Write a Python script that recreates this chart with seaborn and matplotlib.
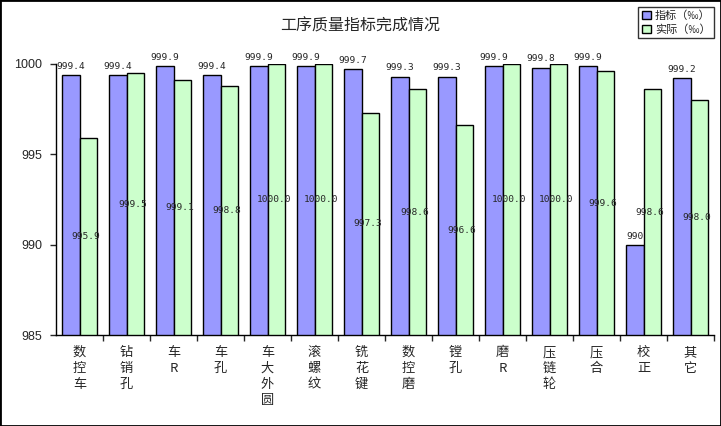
import numpy as np
import pandas as pd
import seaborn as sns
from matplotlib import pyplot as plt
from matplotlib.patches import Patch, Rectangle

sns.set_style("white")
plt.rcParams['font.family'] = ['Noto Sans CJK SC', 'DejaVu Sans']

cats = ['数控车', '钻销孔', '车R', '车孔', '车大外圆', '滚螺纹', '铣花键',
        '数控磨', '镗孔', '磨R', '压链轮', '压合', '校正', '其它']
target = [999.4, 999.4, 999.9, 999.4, 999.9, 999.9, 999.7,
          999.3, 999.3, 999.9, 999.8, 999.9, 990.0, 999.2]
actual = [995.9, 999.5, 999.1, 998.8, 1000.0, 1000.0, 997.3,
          998.6, 996.6, 1000.0, 1000.0, 999.6, 998.6, 998.0]
series = ['指标（‰）', '实际（‰）']
colors = ['#9999FF', '#CCFFCC']
ymin, ymax = 985, 1000

df = pd.DataFrame({
    '工序': cats * 2,
    '值': target + actual,
    '系列': [series[0]] * len(cats) + [series[1]] * len(cats),
})

fig = plt.figure(figsize=(7.21, 4.26), dpi=100)
ax = fig.add_axes([56 / 721, 91 / 426, 658 / 721, 271 / 426])

sns.barplot(data=df, x='工序', y='值', hue='系列', order=cats, hue_order=series,
            palette=colors, edgecolor='black', linewidth=1, width=0.75,
            saturation=1, legend=False, ax=ax)

ax.set_ylim(ymin, ymax)
ax.set_xlim(-0.5, len(cats) - 0.5)
ax.set_yticks([985, 990, 995, 1000])
ax.set_yticklabels(['985', '990', '995', '1000'], fontsize=9, family='Liberation Sans')
ax.tick_params(axis='y', direction='out', length=4, width=1, pad=6, left=True)
ax.set_xticks(range(len(cats)))
ax.set_xticklabels(['\n'.join(c) for c in cats], fontsize=9.5, linespacing=1.3)
ax.tick_params(axis='x', which='major', length=0, pad=8)
ax.set_xticks(np.arange(0.5, len(cats), 1), minor=True)
ax.tick_params(axis='x', which='minor', direction='out', length=4, width=1, bottom=True)
ax.set_xlabel('')
ax.set_ylabel('')
for s in ['top', 'right']:
    ax.spines[s].set_visible(False)
for s in ['left', 'bottom']:
    ax.spines[s].set_color('black')
    ax.spines[s].set_linewidth(1)

mono = 'DejaVu Sans Mono'
blue_txt = ['990' if v == 990 else f'{v:.1f}' for v in target]
ax.bar_label(ax.containers[0], labels=blue_txt, padding=3, fontsize=6.8, family=mono)
for bar, v in zip(ax.containers[1], actual):
    xc = bar.get_x() + bar.get_width() / 2 - 0.05
    ax.text(xc, (v + ymin) / 2, f'{v:.1f}', ha='center', va='center',
            fontsize=6.8, family=mono)

fig.text(0.5, 1 - 26 / 426, '工序质量指标完成情况', ha='center', va='center', fontsize=11.5)

handles = [Patch(facecolor=c, edgecolor='black', linewidth=1) for c in colors]
leg = fig.legend(handles, series, loc='upper right',
                 bbox_to_anchor=(714 / 721, 1 - 7 / 426), fontsize=8,
                 frameon=True, fancybox=False, edgecolor='black',
                 handlelength=0.8, handleheight=0.8, handletextpad=0.4,
                 borderpad=0.3, labelspacing=0.3, borderaxespad=0)
leg.get_frame().set_linewidth(1)

fig.patches.append(Rectangle((0, 0), 1, 1, transform=fig.transFigure,
                             fill=False, edgecolor='black', linewidth=2))

fig.savefig('out.png', dpi=100)
